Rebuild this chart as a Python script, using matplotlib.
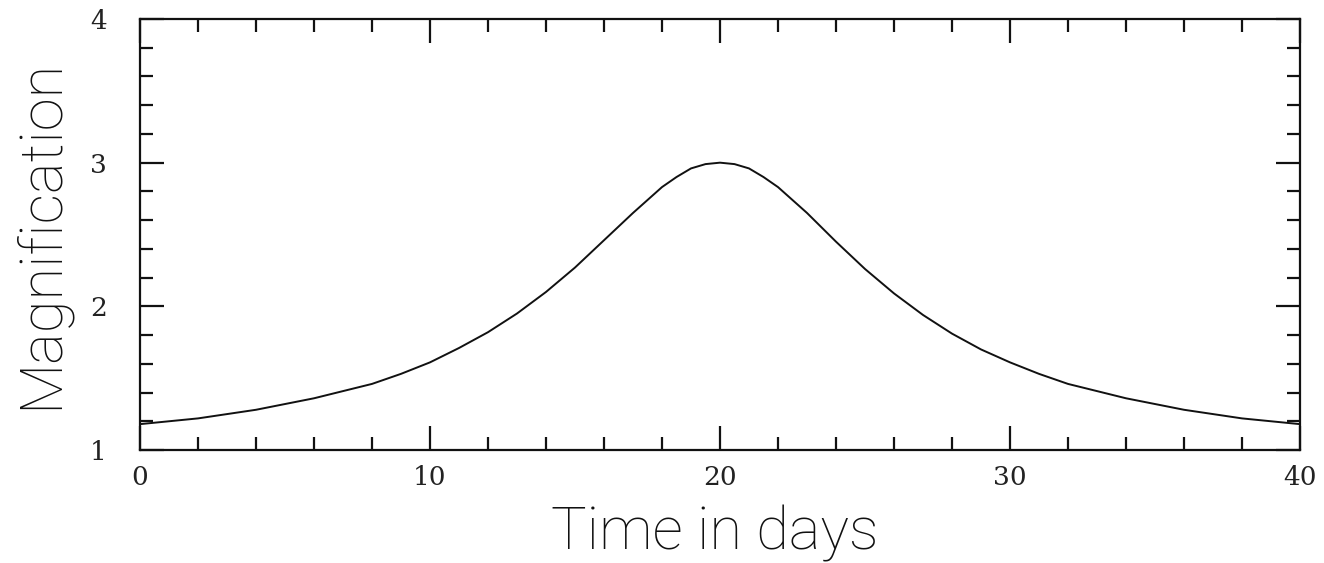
import matplotlib
matplotlib.use("Agg")
import matplotlib.pyplot as plt
from matplotlib.ticker import MultipleLocator

# Light curve of the lensing event (magnification vs. time in days)
days = [0, 1, 2, 3, 4, 5, 6, 7, 8, 9, 10, 11, 12, 13, 14, 15, 16, 17, 18,
        18.5, 19, 19.5, 20, 20.5, 21, 21.5, 22, 23, 24, 25, 26, 27, 28, 29,
        30, 31, 32, 33, 34, 35, 36, 37, 38, 39, 40]
magnification = [1.18, 1.20, 1.22, 1.25, 1.28, 1.32, 1.36, 1.41, 1.46, 1.53,
                 1.61, 1.71, 1.82, 1.95, 2.10, 2.27, 2.46, 2.65, 2.83,
                 2.90, 2.96, 2.99, 3.00, 2.99, 2.96, 2.90, 2.83, 2.65, 2.45,
                 2.26, 2.09, 1.94, 1.81, 1.70, 1.61, 1.53, 1.46, 1.41, 1.36,
                 1.32, 1.28, 1.25, 1.22, 1.20, 1.18]

x_ticks = [0, 10, 20, 30, 40]
y_ticks = [1, 2, 3, 4]

W, H = 1324, 563
fig = plt.figure(figsize=(W / 100, H / 100), dpi=100)
ax = fig.add_axes([140 / W, 113 / H, 1160 / W, 431 / H])

ax.plot(days, magnification, color="#111111", linewidth=1.4)

ax.set_xlim(0, 40)
ax.set_ylim(1, 4)
ax.set_xticks(x_ticks)
ax.set_yticks(y_ticks)
ax.xaxis.set_minor_locator(MultipleLocator(2))
ax.yaxis.set_minor_locator(MultipleLocator(0.2))

for side in ax.spines.values():
    side.set_linewidth(1.6)
    side.set_color("#111111")

ax.tick_params(which="both", direction="in", top=True, right=True,
               color="#111111", width=1.6)
ax.tick_params(which="major", length=17)
ax.tick_params(which="minor", length=9.5)
ax.tick_params(axis="x", which="major", pad=11)
ax.tick_params(axis="y", which="major", pad=24)

for lab in ax.get_xticklabels() + ax.get_yticklabels():
    lab.set_fontfamily("DejaVu Serif")
    lab.set_fontsize(19)
    lab.set_color("#222222")

label_font = dict(family=["Roboto", "DejaVu Sans"], weight="light",
                  size=43, color="#111111")
fig.text(715 / W, 1 - 550 / H, "Time in days", ha="center",
         va="baseline", **label_font)
fig.text(57 / W, 1 - 234 / H, "Magnification", ha="center", va="baseline",
         rotation=90, rotation_mode="anchor", **label_font)

fig.savefig("out.png", dpi=100, facecolor="white")
